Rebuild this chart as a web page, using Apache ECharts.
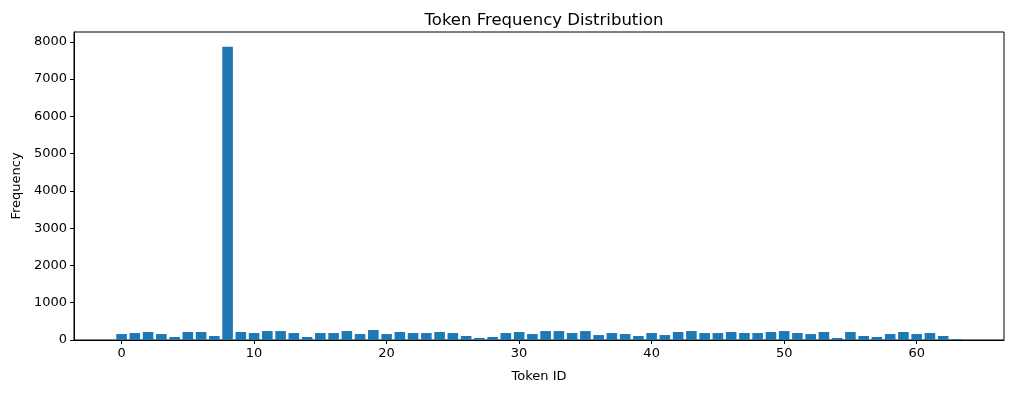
<!DOCTYPE html>
<html>
<head>
<meta charset="utf-8">
<script src="https://cdn.jsdelivr.net/npm/echarts@6/dist/echarts.min.js"></script>
<style>
html,body{margin:0;padding:0;background:#fff;}
#c{width:1014px;height:393px;}
</style>
</head>
<body>
<div id="c"></div>
<script>
const tokenIds = Array.from({length: 64}, (_, i) => i);
const frequencies = [
  160, 187, 214, 160, 80, 214, 214, 107, 7870, 214,
  187, 240, 240, 187, 80, 187, 187, 240, 160, 267,
  160, 214, 187, 187, 214, 187, 107, 53, 80, 187,
  214, 160, 240, 240, 187, 240, 133, 187, 160, 107,
  187, 133, 214, 240, 187, 187, 214, 187, 187, 214,
  240, 187, 160, 214, 53, 214, 107, 80, 160, 214,
  160, 187, 107, 27
];
const xTicks = [0, 10, 20, 30, 40, 50, 60];
const yTicks = [0, 1000, 2000, 3000, 4000, 5000, 6000, 7000, 8000];

const font = 'DejaVu Sans';
const chart = echarts.init(document.getElementById('c'), null, {renderer: 'canvas'});
const xMin = -0.4 - 0.05 * 63.8, xMax = 63.4 + 0.05 * 63.8;
const yMax = Math.max(...frequencies) * 1.05;
chart.setOption({
  animation: false,
  backgroundColor: '#fff',
  title: {
    text: 'Token Frequency Distribution',
    left: 539, top: 7, textAlign: 'center',
    textStyle: {fontFamily: font, fontSize: 16.5, fontWeight: 'normal', color: '#000'}
  },
  grid: {left: 74, right: 10, top: 32, bottom: 53, outerBoundsMode: 'none', containLabel: false,
         show: true, borderColor: '#000', borderWidth: 1, backgroundColor: 'transparent'},
  xAxis: {
    type: 'value', min: xMin, max: xMax,
    name: 'Token ID', nameLocation: 'middle', nameGap: 30,
    nameTextStyle: {fontFamily: font, fontSize: 13, color: '#000'},
    axisLine: {show: true, onZero: false, lineStyle: {color: '#000', width: 1}},
    axisTick: {show: true, length: 4, customValues: xTicks, lineStyle: {color: '#000'}},
    axisLabel: {customValues: xTicks, fontFamily: font, fontSize: 13, color: '#000', margin: 7, formatter: v => String(v)},
    splitLine: {show: false}
  },
  yAxis: {
    type: 'value', min: 0, max: yMax,
    name: 'Frequency', nameLocation: 'middle', nameGap: 51, nameRotate: 90,
    nameTextStyle: {fontFamily: font, fontSize: 13, color: '#000'},
    axisLine: {show: true, onZero: false, lineStyle: {color: '#000', width: 1}},
    axisTick: {show: true, length: 4, customValues: yTicks, lineStyle: {color: '#000'}},
    axisLabel: {customValues: yTicks, fontFamily: font, fontSize: 13, color: '#000', margin: 7, formatter: v => String(v)},
    splitLine: {show: false}
  },
  series: [{
    type: 'bar',
    data: tokenIds.map((t, i) => [t, frequencies[i]]),
    barWidth: '80%',
    itemStyle: {color: '#1f77b4'}
  }]
});
</script>
</body>
</html>
